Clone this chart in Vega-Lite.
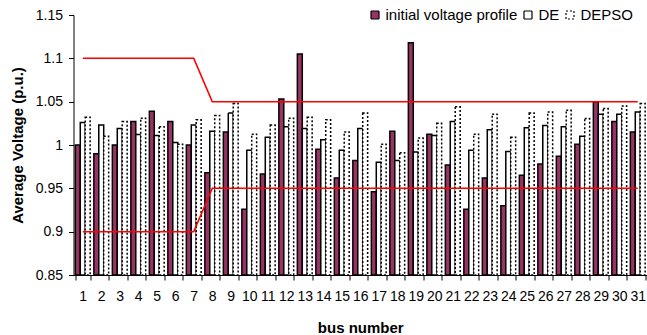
{
  "$schema": "https://vega.github.io/schema/vega-lite/v6.json",
  "width": 573.5,
  "height": 260,
  "autosize": {"type": "none"},
  "padding": {"left": 73.5, "top": 15, "right": 0, "bottom": 60},
  "background": "white",
  "config": {
    "view": {"stroke": null},
    "font": "Liberation Sans",
    "axis": {
      "labelFont": "Liberation Sans",
      "titleFont": "Liberation Sans",
      "labelColor": "#000000",
      "titleColor": "#000000",
      "domainColor": "#000000",
      "tickColor": "#000000",
      "grid": false,
      "labelFontSize": 14,
      "titleFontSize": 15,
      "titleFontWeight": "bold",
      "tickSize": 5
    },
    "legend": {
      "labelFont": "Liberation Sans"
    }
  },
  "datasets": {
    "volt": [
      {"bus": 1, "initial voltage profile": 1.000, "DE": 1.026, "DEPSO": 1.032},
      {"bus": 2, "initial voltage profile": 0.990, "DE": 1.023, "DEPSO": 1.010},
      {"bus": 3, "initial voltage profile": 1.000, "DE": 1.019, "DEPSO": 1.027},
      {"bus": 4, "initial voltage profile": 1.027, "DE": 1.012, "DEPSO": 1.031},
      {"bus": 5, "initial voltage profile": 1.039, "DE": 1.011, "DEPSO": 1.021},
      {"bus": 6, "initial voltage profile": 1.027, "DE": 1.003, "DEPSO": 1.001},
      {"bus": 7, "initial voltage profile": 1.000, "DE": 1.023, "DEPSO": 1.029},
      {"bus": 8, "initial voltage profile": 0.968, "DE": 1.016, "DEPSO": 1.034},
      {"bus": 9, "initial voltage profile": 1.015, "DE": 1.037, "DEPSO": 1.048},
      {"bus": 10, "initial voltage profile": 0.926, "DE": 0.994, "DEPSO": 1.0125},
      {"bus": 11, "initial voltage profile": 0.9665, "DE": 1.009, "DEPSO": 1.023},
      {"bus": 12, "initial voltage profile": 1.053, "DE": 1.021, "DEPSO": 1.031},
      {"bus": 13, "initial voltage profile": 1.105, "DE": 1.019, "DEPSO": 1.032},
      {"bus": 14, "initial voltage profile": 0.995, "DE": 1.006, "DEPSO": 1.029},
      {"bus": 15, "initial voltage profile": 0.962, "DE": 0.994, "DEPSO": 1.015},
      {"bus": 16, "initial voltage profile": 0.982, "DE": 1.019, "DEPSO": 1.037},
      {"bus": 17, "initial voltage profile": 0.946, "DE": 0.980, "DEPSO": 1.001},
      {"bus": 18, "initial voltage profile": 1.016, "DE": 0.982, "DEPSO": 0.991},
      {"bus": 19, "initial voltage profile": 1.118, "DE": 0.992, "DEPSO": 1.008},
      {"bus": 20, "initial voltage profile": 1.0125, "DE": 1.011, "DEPSO": 1.025},
      {"bus": 21, "initial voltage profile": 0.977, "DE": 1.027, "DEPSO": 1.044},
      {"bus": 22, "initial voltage profile": 0.926, "DE": 0.994, "DEPSO": 1.0125},
      {"bus": 23, "initial voltage profile": 0.962, "DE": 1.0175, "DEPSO": 1.0355},
      {"bus": 24, "initial voltage profile": 0.930, "DE": 0.9925, "DEPSO": 1.009},
      {"bus": 25, "initial voltage profile": 0.965, "DE": 1.020, "DEPSO": 1.037},
      {"bus": 26, "initial voltage profile": 0.978, "DE": 1.0225, "DEPSO": 1.038},
      {"bus": 27, "initial voltage profile": 0.987, "DE": 1.021, "DEPSO": 1.040},
      {"bus": 28, "initial voltage profile": 1.001, "DE": 1.010, "DEPSO": 1.0305},
      {"bus": 29, "initial voltage profile": 1.050, "DE": 1.0355, "DEPSO": 1.042},
      {"bus": 30, "initial voltage profile": 1.027, "DE": 1.0355, "DEPSO": 1.045},
      {"bus": 31, "initial voltage profile": 1.015, "DE": 1.038, "DEPSO": 1.048}
    ],
    "limits": [
      {"bus": 1, "limit": "upper", "v": 1.1},
      {"bus": 7, "limit": "upper", "v": 1.1},
      {"bus": 8, "limit": "upper", "v": 1.05},
      {"bus": 31, "limit": "upper", "v": 1.05},
      {"bus": 1, "limit": "lower", "v": 0.9},
      {"bus": 7, "limit": "lower", "v": 0.9},
      {"bus": 8, "limit": "lower", "v": 0.95},
      {"bus": 31, "limit": "lower", "v": 0.95}
    ]
  },
  "encoding": {
    "x": {
      "field": "bus",
      "type": "ordinal",
      "scale": {"paddingInner": 0.2, "paddingOuter": 0.1},
      "axis": {
        "title": "bus number",
        "labelAngle": 0,
        "tickBand": "extent",
        "labelPadding": 9,
        "titlePadding": 17
      }
    },
    "y": {
      "field": "v",
      "type": "quantitative",
      "scale": {"domain": [0.85, 1.15], "zero": false, "nice": false},
      "axis": {
        "title": "Average Voltage (p.u.)",
        "values": [0.85, 0.9, 0.95, 1, 1.05, 1.1, 1.15],
        "format": ".2~f",
        "labelPadding": 6,
        "titlePadding": 10
      }
    }
  },
  "layer": [
    {
      "data": {"name": "volt"},
      "transform": [
        {"fold": ["initial voltage profile", "DE", "DEPSO"], "as": ["series", "v"]}
      ],
      "mark": {"type": "bar", "strokeWidth": 1.5},
      "encoding": {
        "xOffset": {
          "field": "series",
          "type": "nominal",
          "scale": {"domain": ["initial voltage profile", "DE", "DEPSO"], "paddingInner": 0, "paddingOuter": 0}
        },
        "y2": {"datum": 0.85},
        "fill": {
          "field": "series",
          "type": "nominal",
          "scale": {"domain": ["initial voltage profile", "DE", "DEPSO"], "range": ["#993366", "#ffffff", "#ffffff"]},
          "legend": {
            "title": null,
            "orient": "none",
            "legendX": 294,
            "legendY": -7.5,
            "direction": "horizontal",
            "gridAlign": "none",
            "symbolType": "square",
            "symbolSize": 64,
            "symbolStrokeWidth": 1.2,
            "labelFontSize": 15,
            "labelColor": "#000000",
            "labelOffset": 3,
            "columnPadding": 3,
            "padding": 0
          }
        },
        "stroke": {
          "field": "series",
          "type": "nominal",
          "scale": {"domain": ["initial voltage profile", "DE", "DEPSO"], "range": ["#000000", "#000000", "#000000"]}
        },
        "strokeDash": {
          "field": "series",
          "type": "nominal",
          "scale": {"domain": ["initial voltage profile", "DE", "DEPSO"], "range": [[1, 0], [1, 0], [2, 2]]}
        }
      }
    },
    {
      "data": {"name": "limits"},
      "mark": {"type": "line", "color": "#ff0000", "strokeWidth": 1.5},
      "encoding": {
        "detail": {"field": "limit", "type": "nominal"}
      }
    }
  ]
}
